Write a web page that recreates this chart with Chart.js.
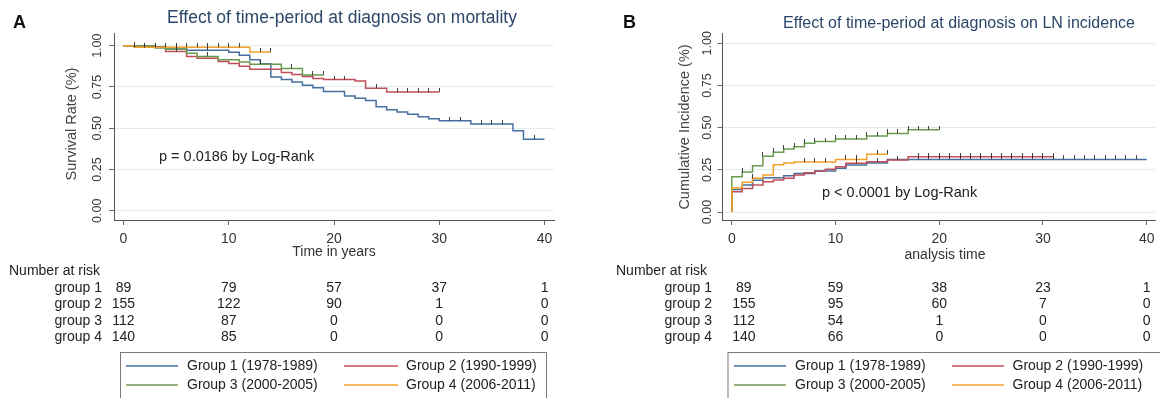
<!DOCTYPE html>
<html>
<head>
<meta charset="utf-8">
<script src="https://cdn.jsdelivr.net/npm/chart.js@4.4.0/dist/chart.umd.min.js"></script>
<style>
  body { margin: 0; background: #fff; width: 1160px; height: 398px; overflow: hidden; position: relative; }
  .panel { position: absolute; top: 0; height: 398px; }
  #wrap-a { left: 0; width: 580px; }
  #wrap-b { left: 600px; width: 560px; }
</style>
</head>
<body>
<div class="panel" id="wrap-a"><canvas id="chart-a" width="580" height="398"></canvas></div>
<div class="panel" id="wrap-b"><canvas id="chart-b" width="560" height="398"></canvas></div>
<script>
// --- Shared labels ---
const groupLabels = ['Group 1 (1978-1989)', 'Group 2 (1990-1999)', 'Group 3 (2000-2005)', 'Group 4 (2006-2011)'];
const riskRowLabels = ['group 1', 'group 2', 'group 3', 'group 4'];
const groupColors = ['#46709f', '#c04e58', '#6a9a4e', '#f2a02a'];
const xTicks = [0, 10, 20, 30, 40];
const yTicks = [0, 0.25, 0.5, 0.75, 1];
const riskTimes = [0, 10, 20, 30, 40];

// --- Panel A: survival (time in years / survival rate) ---
const survTime1 = [0, 2, 4, 6, 10, 11, 12, 13, 14, 15, 16, 17, 18, 19, 21, 22, 23, 24, 25, 26, 27, 28, 29, 30, 33, 37, 38, 40];
const survRate1 = [1.000, 0.994, 0.986, 0.972, 0.960, 0.942, 0.915, 0.890, 0.810, 0.795, 0.780, 0.760, 0.745, 0.722, 0.695, 0.682, 0.668, 0.630, 0.612, 0.598, 0.585, 0.570, 0.558, 0.545, 0.525, 0.485, 0.433, 0.433];
const survCens1 = [1, 3, 5, 8, 31, 32, 34, 35, 36, 39];

const survTime2 = [0, 2, 4, 6, 7, 9, 10, 11, 12, 15, 16, 17, 18, 19, 22, 23, 25, 30];
const survRate2 = [1.000, 0.990, 0.965, 0.935, 0.924, 0.905, 0.892, 0.875, 0.858, 0.838, 0.826, 0.814, 0.802, 0.795, 0.786, 0.742, 0.720, 0.720];
const survCens2 = [2, 5, 20, 21, 24, 26, 27, 28, 29, 30];

const survTime3 = [0, 3, 4, 6, 7, 9, 11, 12, 15, 17, 19];
const survRate3 = [1.000, 0.986, 0.978, 0.955, 0.935, 0.915, 0.902, 0.888, 0.862, 0.822, 0.822];
const survCens3 = [8, 13, 16, 18, 19];

const survTime4 = [0, 1, 12, 14];
const survRate4 = [1.000, 0.990, 0.962, 0.962];
const survCens4 = [1, 2, 3, 4, 5, 6, 7, 8, 9, 10, 11, 13, 14];

const riskA1 = [89, 79, 57, 37, 1];
const riskA2 = [155, 122, 90, 1, 0];
const riskA3 = [112, 87, 0, 0, 0];
const riskA4 = [140, 85, 0, 0, 0];

// --- Panel B: cumulative LN incidence (analysis time) ---
const incTime1 = [0, 0, 1, 2, 3, 5, 6, 8, 10, 11, 13, 15, 40];
const incRate1 = [0, 0.134, 0.160, 0.188, 0.204, 0.215, 0.229, 0.243, 0.259, 0.279, 0.290, 0.312, 0.312];
const incCens1 = [18, 19, 20, 21, 22, 23, 24, 25, 26, 27, 28, 29, 30, 31, 32, 33, 34, 35, 36, 37, 38, 39];

const incTime2 = [0, 0, 1, 2, 3, 4, 5, 6, 7, 8, 9, 10, 11, 13, 15, 17, 31];
const incRate2 = [0, 0.120, 0.140, 0.160, 0.180, 0.190, 0.200, 0.219, 0.233, 0.243, 0.253, 0.269, 0.289, 0.298, 0.308, 0.328, 0.328];
const incCens2 = [12, 14, 16, 18, 19, 20, 21, 22, 23, 24, 25, 26, 27, 28, 29, 30, 31];

const incTime3 = [0, 0, 1, 2, 3, 4, 5, 6, 7, 8, 10, 13, 15, 17, 20];
const incRate3 = [0, 0.210, 0.237, 0.275, 0.330, 0.355, 0.373, 0.387, 0.408, 0.418, 0.433, 0.450, 0.466, 0.488, 0.488];
const incCens3 = [1, 3, 4, 5, 6, 7, 8, 9, 10, 11, 12, 13, 14, 15, 16, 17, 18, 19, 20];

const incTime4 = [0, 0, 1, 2, 3, 4, 5, 6, 10, 13, 15];
const incRate4 = [0, 0.142, 0.176, 0.200, 0.219, 0.280, 0.290, 0.296, 0.312, 0.343, 0.343];
const incCens4 = [2, 7, 8, 9, 11, 12, 14, 15];

const riskB1 = [89, 59, 38, 23, 1];
const riskB2 = [155, 95, 60, 7, 0];
const riskB3 = [112, 54, 1, 0, 0];
const riskB4 = [140, 66, 0, 0, 0];

const FONT = '"Liberation Sans", Arial, Helvetica, sans-serif';

// --- Helpers ---
const stepData = (times, vals) => times.map((t, i) => ({ x: t, y: vals[i] }));

const valueAt = (times, vals, t) => {
    let v = vals[0];
    times.forEach((tt, i) => { if (tt <= t) v = vals[i]; });
    return v;
};

// small upward tick used as the censoring marker
const makeTick = () => {
    const c = document.createElement('canvas');
    c.width = 1;
    c.height = 8;
    const g = c.getContext('2d');
    g.fillStyle = 'rgba(45,45,45,0.9)';
    g.fillRect(0, 0, 1, 4);
    return c;
};
const tickImg = makeTick();

const panelText = (cfg) => ({
    id: 'panelText',
    afterDraw(chart) {
        const ctx = chart.ctx;
        const xs = chart.scales.x;
        const ys = chart.scales.y;
        ctx.save();

        // panel letter
        ctx.fillStyle = '#111';
        ctx.font = 'bold 18px ' + FONT;
        ctx.textAlign = 'left';
        ctx.textBaseline = 'alphabetic';
        ctx.fillText(cfg.letter, cfg.letterX, 28);

        // title
        ctx.fillStyle = '#2b4668';
        ctx.font = cfg.titleSize + 'px ' + FONT;
        ctx.textAlign = 'center';
        ctx.textBaseline = 'middle';
        ctx.fillText(cfg.title, cfg.titleX, cfg.titleY);

        // y tick labels (rotated)
        ctx.fillStyle = '#333';
        ctx.font = '12.5px ' + FONT;
        yTicks.forEach(v => {
            ctx.save();
            ctx.translate(cfg.yTickX, ys.getPixelForValue(v));
            ctx.rotate(-Math.PI / 2);
            ctx.fillText(v.toFixed(2), 0, 0);
            ctx.restore();
        });

        // y title
        ctx.fillStyle = '#444';
        ctx.font = '14.5px ' + FONT;
        ctx.save();
        ctx.translate(cfg.yTitleX, cfg.yTitleY);
        ctx.rotate(-Math.PI / 2);
        ctx.fillText(cfg.yTitle, 0, 0);
        ctx.restore();

        // x tick labels + title
        ctx.fillStyle = '#333';
        ctx.font = '14px ' + FONT;
        xTicks.forEach(t => ctx.fillText(String(t), xs.getPixelForValue(t), 239));
        ctx.fillText(cfg.xTitle, cfg.xTitleX, cfg.xTitleY);

        // p-value note
        ctx.fillStyle = '#222';
        ctx.font = '14.5px ' + FONT;
        ctx.textAlign = 'left';
        ctx.fillText(cfg.pText, cfg.pX, cfg.pY);

        // number at risk table
        ctx.font = '14px ' + FONT;
        ctx.fillText('Number at risk', cfg.riskHeadX, 271);
        const rowYs = [288, 304, 321, 337];
        cfg.risk.forEach((row, r) => {
            ctx.textAlign = 'right';
            ctx.fillText(riskRowLabels[r], cfg.rowLabelRight, rowYs[r]);
            ctx.textAlign = 'center';
            row.forEach((n, i) => {
                const x = xs.getPixelForValue(riskTimes[i]) + (i === 0 ? cfg.firstColShift : 0);
                ctx.fillText(String(n), x, rowYs[r]);
            });
        });

        // legend box
        ctx.strokeStyle = '#7a7a7a';
        ctx.lineWidth = 1;
        ctx.strokeRect(cfg.legLeft + 0.5, 352.5, cfg.legRight - cfg.legLeft, 60);
        const legRows = [366, 385];
        groupLabels.forEach((lab, i) => {
            const col = i % 2;
            const y = legRows[Math.floor(i / 2)];
            ctx.strokeStyle = groupColors[i];
            ctx.lineWidth = 1.3;
            ctx.beginPath();
            ctx.moveTo(cfg.legLines[col][0], y);
            ctx.lineTo(cfg.legLines[col][1], y);
            ctx.stroke();
            ctx.fillStyle = '#222';
            ctx.textAlign = 'left';
            ctx.fillText(lab, cfg.legText[col], y);
        });

        ctx.restore();
    }
});

const makeChart = (canvasId, series, cfg) => {
    const datasets = [];
    series.forEach((s, i) => {
        datasets.push({
            label: groupLabels[i],
            data: stepData(s.t, s.v),
            borderColor: groupColors[i],
            borderWidth: 1.5,
            stepped: 'before',
            pointRadius: 0,
            fill: false,
            order: 20 - i
        });
    });
    series.forEach((s, i) => {
        datasets.push({
            label: groupLabels[i] + ' censored',
            data: s.c.map(t => ({ x: t, y: valueAt(s.t, s.v, t) })),
            showLine: false,
            pointStyle: tickImg,
            pointRadius: 3,
            order: 5 - i
        });
    });

    return new Chart(document.getElementById(canvasId), {
        type: 'line',
        data: { datasets },
        options: {
            responsive: false,
            animation: false,
            events: [],
            layout: { padding: cfg.padding },
            plugins: { legend: { display: false }, tooltip: { enabled: false }, title: { display: false } },
            scales: {
                x: {
                    type: 'linear',
                    min: cfg.xMin,
                    max: cfg.xMax,
                    afterBuildTicks: sc => { sc.ticks = xTicks.map(v => ({ value: v })); },
                    afterFit: sc => { sc.height = 20; },
                    ticks: { display: false },
                    grid: { drawOnChartArea: false, tickLength: 5, tickColor: '#666' },
                    border: { color: '#555', width: 1 }
                },
                y: {
                    type: 'linear',
                    min: cfg.yMin,
                    max: cfg.yMax,
                    afterBuildTicks: sc => { sc.ticks = yTicks.map(v => ({ value: v })); },
                    afterFit: sc => { sc.width = 20; },
                    ticks: { display: false },
                    grid: { color: '#e0ebee', lineWidth: 1, tickLength: 5, tickColor: '#666' },
                    border: { color: '#555', width: 1 }
                }
            }
        },
        plugins: [panelText(cfg)]
    });
};

makeChart('chart-a', [
    { t: survTime1, v: survRate1, c: survCens1 },
    { t: survTime2, v: survRate2, c: survCens2 },
    { t: survTime3, v: survRate3, c: survCens3 },
    { t: survTime4, v: survRate4, c: survCens4 }
], {
    padding: { left: 94, top: 33, right: 26, bottom: 158 },
    xMin: -0.9, xMax: 40.9, yMin: -0.056, yMax: 1.077,
    letter: 'A', letterX: 13,
    title: 'Effect of time-period at diagnosis on mortality', titleX: 342, titleY: 18, titleSize: 17.5,
    yTickX: 98, yTitle: 'Survival Rate (%)', yTitleX: 72, yTitleY: 124,
    xTitle: 'Time in years', xTitleX: 334, xTitleY: 252,
    pText: 'p = 0.0186 by Log-Rank', pX: 159, pY: 157,
    risk: [riskA1, riskA2, riskA3, riskA4], riskHeadX: 9, rowLabelRight: 102, firstColShift: 0,
    legLeft: 120, legRight: 546, legLines: [[126, 178], [344, 398]], legText: [187, 406]
});

makeChart('chart-b', [
    { t: incTime1, v: incRate1, c: incCens1 },
    { t: incTime2, v: incRate2, c: incCens2 },
    { t: incTime3, v: incRate3, c: incCens3 },
    { t: incTime4, v: incRate4, c: incCens4 }
], {
    padding: { left: 102.5, top: 33, right: 1, bottom: 158 },
    xMin: -0.9, xMax: 40.8, yMin: -0.047, yMax: 1.061,
    letter: 'B', letterX: 23,
    title: 'Effect of time-period at diagnosis on LN incidence', titleX: 359, titleY: 24, titleSize: 16,
    yTickX: 108, yTitle: 'Cumulative Incidence (%)', yTitleX: 85, yTitleY: 127,
    xTitle: 'analysis time', xTitleX: 345, xTitleY: 255,
    pText: 'p < 0.0001 by Log-Rank', pX: 222, pY: 193,
    risk: [riskB1, riskB2, riskB3, riskB4], riskHeadX: 16, rowLabelRight: 112, firstColShift: 12,
    legLeft: 127.5, legRight: 562, legLines: [[134, 186], [352, 404]], legText: [195, 412.5]
});
</script>
</body>
</html>
